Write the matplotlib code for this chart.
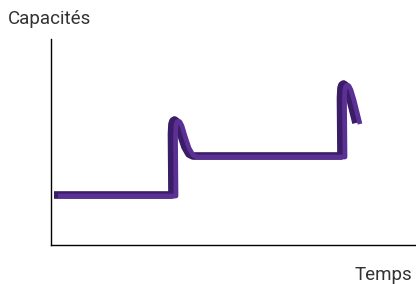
import matplotlib
matplotlib.use('Agg')
import matplotlib.pyplot as plt
import matplotlib.transforms as mtrans

plt.rcParams['font.family'] = ['Roboto', 'DejaVu Sans']

# capacity curve over time
temps = [7, 125, 124.5, 125, 126, 127.5, 129, 131, 134, 138, 142, 146,
         294, 293.5, 294, 295, 296.5, 298, 300, 303, 306, 309]
capacites = [49, 49, 110, 120, 123, 124, 123, 119, 109, 97, 90, 88,
             88, 146, 156, 159, 160, 159, 155, 145, 133, 121]

fig = plt.figure(figsize=(4.16, 2.84), dpi=100)
ax = fig.add_axes([51/416, 39/284, 365/416, 206/284])
ax.set_xlim(0, 365)
ax.set_ylim(0, 206)

# side of the ribbon, shifted a bit, then the front face
side = mtrans.offset_copy(ax.transData, fig=fig, x=-4, y=1.0, units='dots')
ax.plot(temps, capacites, color='#3b1c66', lw=5.5, solid_joinstyle='round',
        solid_capstyle='butt', transform=side)
ax.plot(temps, capacites, color='#5b3095', lw=3.4, solid_joinstyle='round',
        solid_capstyle='butt')

for s in ['top', 'right']:
    ax.spines[s].set_visible(False)
ax.spines['left'].set_linewidth(1)
ax.spines['bottom'].set_linewidth(1)
ax.set_xticks([])
ax.set_yticks([])

fig.text(8/416, 1 - 24/284, 'Capacités', fontsize=13.5, color='#333333')
fig.text(412/416, 1 - 280/284, 'Temps', fontsize=13.5, color='#333333',
         ha='right')

fig.savefig('out.png', dpi=100)
